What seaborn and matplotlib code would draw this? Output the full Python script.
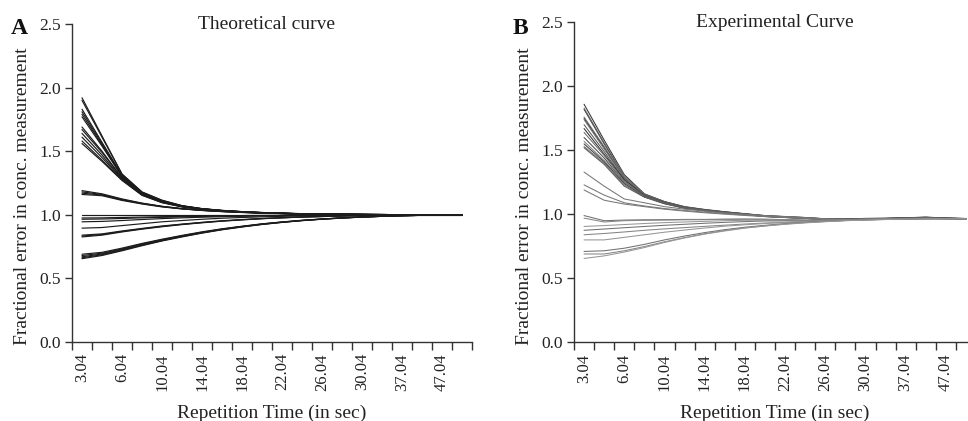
import matplotlib
matplotlib.use("Agg")
import matplotlib.pyplot as plt
import matplotlib.ticker as mticker
import numpy as np
import pandas as pd
import seaborn as sns

# Repetition times (s); every other one is labelled on the axis
rep_times = ["3.04", "4.04", "6.04", "8.04", "10.04", "12.04", "14.04", "16.04",
             "18.04", "20.04", "22.04", "24.04", "26.04", "28.04", "30.04",
             "33.04", "37.04", "42.04", "47.04", "57.04"]

# ---- Panel A: theoretical fractional error curves ----
theo_high = [
    [1.92, 1.62, 1.32, 1.180, 1.115, 1.072, 1.049, 1.035, 1.025, 1.018, 1.013, 1.009, 1.006, 1.004, 1.003, 1.002, 1.001, 1.000, 1.000, 1.000],
    [1.90, 1.61, 1.32, 1.178, 1.113, 1.071, 1.048, 1.034, 1.025, 1.018, 1.013, 1.009, 1.006, 1.004, 1.003, 1.002, 1.001, 1.000, 1.000, 1.000],
    [1.83, 1.57, 1.31, 1.175, 1.110, 1.070, 1.047, 1.034, 1.024, 1.017, 1.012, 1.008, 1.006, 1.004, 1.003, 1.002, 1.001, 1.000, 1.000, 1.000],
    [1.81, 1.56, 1.305, 1.172, 1.108, 1.069, 1.047, 1.033, 1.024, 1.017, 1.012, 1.008, 1.006, 1.004, 1.003, 1.002, 1.001, 1.000, 1.000, 1.000],
    [1.79, 1.55, 1.30, 1.170, 1.107, 1.068, 1.046, 1.033, 1.023, 1.017, 1.012, 1.008, 1.005, 1.004, 1.002, 1.001, 1.001, 1.000, 1.000, 1.000],
    [1.77, 1.54, 1.30, 1.168, 1.105, 1.068, 1.046, 1.032, 1.023, 1.016, 1.012, 1.008, 1.005, 1.004, 1.002, 1.001, 1.001, 1.000, 1.000, 1.000],
    [1.69, 1.50, 1.29, 1.165, 1.103, 1.067, 1.045, 1.032, 1.023, 1.016, 1.011, 1.008, 1.005, 1.003, 1.002, 1.001, 1.001, 1.000, 1.000, 1.000],
    [1.67, 1.49, 1.29, 1.163, 1.102, 1.066, 1.045, 1.031, 1.022, 1.016, 1.011, 1.007, 1.005, 1.003, 1.002, 1.001, 1.001, 1.000, 1.000, 1.000],
    [1.64, 1.47, 1.28, 1.160, 1.100, 1.065, 1.044, 1.031, 1.022, 1.016, 1.011, 1.007, 1.005, 1.003, 1.002, 1.001, 1.000, 1.000, 1.000, 1.000],
    [1.61, 1.45, 1.28, 1.158, 1.098, 1.064, 1.044, 1.030, 1.021, 1.015, 1.011, 1.007, 1.005, 1.003, 1.002, 1.001, 1.000, 1.000, 1.000, 1.000],
    [1.58, 1.43, 1.275, 1.155, 1.097, 1.063, 1.043, 1.030, 1.021, 1.015, 1.010, 1.007, 1.005, 1.003, 1.002, 1.001, 1.000, 1.000, 1.000, 1.000],
    [1.56, 1.42, 1.27, 1.153, 1.095, 1.062, 1.043, 1.030, 1.021, 1.015, 1.010, 1.007, 1.005, 1.003, 1.002, 1.001, 1.000, 1.000, 1.000, 1.000],
]
theo_mid = [
    [1.19, 1.165, 1.125, 1.092, 1.067, 1.049, 1.036, 1.027, 1.020, 1.015, 1.011, 1.008, 1.006, 1.004, 1.003, 1.002, 1.001, 1.001, 1.000, 1.000],
    [1.18, 1.160, 1.120, 1.090, 1.066, 1.048, 1.035, 1.026, 1.019, 1.014, 1.010, 1.008, 1.006, 1.004, 1.003, 1.002, 1.001, 1.000, 1.000, 1.000],
    [1.17, 1.155, 1.117, 1.088, 1.064, 1.047, 1.035, 1.026, 1.019, 1.014, 1.010, 1.007, 1.005, 1.004, 1.003, 1.002, 1.001, 1.000, 1.000, 1.000],
    [1.16, 1.150, 1.113, 1.085, 1.062, 1.046, 1.034, 1.025, 1.018, 1.013, 1.010, 1.007, 1.005, 1.004, 1.003, 1.002, 1.001, 1.000, 1.000, 1.000],
]
theo_near = [
    [1.000, 1.000, 1.000, 1.000, 1.000, 1.000, 1.000, 1.000, 1.000, 1.000, 1.000, 1.000, 1.000, 1.000, 1.000, 1.000, 1.000, 1.000, 1.000, 1.000],
    [0.975, 0.976, 0.979, 0.982, 0.985, 0.988, 0.990, 0.992, 0.994, 0.995, 0.996, 0.997, 0.998, 0.999, 0.999, 1.000, 1.000, 1.000, 1.000, 1.000],
    [0.965, 0.967, 0.971, 0.976, 0.980, 0.984, 0.987, 0.990, 0.992, 0.994, 0.995, 0.996, 0.997, 0.998, 0.999, 0.999, 1.000, 1.000, 1.000, 1.000],
    [0.945, 0.948, 0.955, 0.963, 0.970, 0.976, 0.981, 0.985, 0.988, 0.991, 0.993, 0.995, 0.996, 0.997, 0.998, 0.999, 1.000, 1.000, 1.000, 1.000],
    [0.895, 0.900, 0.915, 0.930, 0.945, 0.955, 0.965, 0.973, 0.979, 0.984, 0.988, 0.991, 0.993, 0.995, 0.997, 0.998, 0.999, 1.000, 1.000, 1.000],
]
theo_low = [
    [0.840, 0.850, 0.873, 0.893, 0.912, 0.927, 0.941, 0.953, 0.963, 0.971, 0.977, 0.983, 0.987, 0.991, 0.994, 0.996, 0.998, 0.999, 1.000, 1.000],
    [0.833, 0.845, 0.869, 0.890, 0.909, 0.925, 0.939, 0.951, 0.961, 0.970, 0.977, 0.982, 0.987, 0.991, 0.994, 0.996, 0.998, 0.999, 1.000, 1.000],
    [0.826, 0.840, 0.865, 0.887, 0.906, 0.923, 0.937, 0.950, 0.960, 0.969, 0.976, 0.982, 0.986, 0.990, 0.993, 0.996, 0.998, 0.999, 1.000, 1.000],
    [0.690, 0.705, 0.738, 0.775, 0.808, 0.838, 0.866, 0.890, 0.910, 0.929, 0.944, 0.957, 0.967, 0.976, 0.983, 0.989, 0.993, 0.996, 0.999, 1.000],
    [0.680, 0.698, 0.732, 0.770, 0.804, 0.835, 0.863, 0.888, 0.909, 0.928, 0.943, 0.956, 0.967, 0.976, 0.983, 0.988, 0.993, 0.996, 0.998, 1.000],
    [0.670, 0.692, 0.727, 0.765, 0.800, 0.832, 0.860, 0.886, 0.907, 0.926, 0.942, 0.955, 0.966, 0.975, 0.982, 0.988, 0.993, 0.996, 0.998, 1.000],
    [0.662, 0.686, 0.722, 0.761, 0.797, 0.829, 0.858, 0.884, 0.906, 0.925, 0.941, 0.955, 0.966, 0.975, 0.982, 0.988, 0.992, 0.996, 0.998, 1.000],
    [0.655, 0.680, 0.717, 0.757, 0.794, 0.826, 0.856, 0.882, 0.904, 0.924, 0.940, 0.954, 0.965, 0.974, 0.982, 0.988, 0.992, 0.996, 0.998, 1.000],
]

# ---- Panel B: experimental fractional error curves ----
expt_high = [
    [1.86, 1.58, 1.31, 1.160, 1.100, 1.060, 1.038, 1.020, 1.005, 0.990, 0.982, 0.975, 0.965, 0.963, 0.968, 0.969, 0.973, 0.978, 0.971, 0.967],
    [1.83, 1.56, 1.30, 1.158, 1.098, 1.058, 1.036, 1.019, 1.004, 0.989, 0.981, 0.974, 0.964, 0.962, 0.967, 0.968, 0.972, 0.977, 0.970, 0.967],
    [1.82, 1.55, 1.29, 1.155, 1.097, 1.057, 1.035, 1.018, 1.003, 0.988, 0.980, 0.973, 0.964, 0.962, 0.967, 0.968, 0.972, 0.976, 0.970, 0.967],
    [1.76, 1.53, 1.29, 1.153, 1.095, 1.056, 1.035, 1.018, 1.003, 0.988, 0.980, 0.973, 0.963, 0.961, 0.966, 0.968, 0.971, 0.976, 0.970, 0.966],
    [1.75, 1.52, 1.28, 1.150, 1.094, 1.055, 1.034, 1.017, 1.002, 0.987, 0.979, 0.972, 0.963, 0.961, 0.966, 0.967, 0.971, 0.975, 0.969, 0.966],
    [1.74, 1.51, 1.28, 1.150, 1.093, 1.055, 1.033, 1.017, 1.002, 0.987, 0.979, 0.972, 0.962, 0.960, 0.966, 0.967, 0.971, 0.975, 0.969, 0.966],
    [1.70, 1.49, 1.27, 1.148, 1.092, 1.054, 1.033, 1.016, 1.001, 0.986, 0.978, 0.971, 0.962, 0.960, 0.965, 0.967, 0.970, 0.974, 0.969, 0.966],
    [1.67, 1.47, 1.27, 1.146, 1.090, 1.053, 1.032, 1.016, 1.001, 0.986, 0.978, 0.971, 0.961, 0.960, 0.965, 0.966, 0.970, 0.974, 0.968, 0.966],
    [1.64, 1.46, 1.26, 1.144, 1.089, 1.052, 1.031, 1.015, 1.000, 0.985, 0.977, 0.970, 0.961, 0.959, 0.965, 0.966, 0.970, 0.973, 0.968, 0.965],
    [1.60, 1.44, 1.25, 1.142, 1.088, 1.051, 1.031, 1.015, 1.000, 0.985, 0.977, 0.970, 0.961, 0.959, 0.964, 0.966, 0.969, 0.973, 0.968, 0.965],
    [1.57, 1.42, 1.25, 1.140, 1.086, 1.050, 1.030, 1.014, 0.999, 0.984, 0.976, 0.969, 0.960, 0.959, 0.964, 0.965, 0.969, 0.972, 0.967, 0.965],
    [1.55, 1.41, 1.24, 1.138, 1.085, 1.049, 1.029, 1.014, 0.999, 0.984, 0.976, 0.969, 0.960, 0.958, 0.964, 0.965, 0.969, 0.972, 0.967, 0.965],
    [1.53, 1.40, 1.23, 1.136, 1.084, 1.048, 1.029, 1.013, 0.998, 0.983, 0.975, 0.968, 0.960, 0.958, 0.963, 0.965, 0.968, 0.971, 0.967, 0.965],
    [1.52, 1.39, 1.22, 1.134, 1.082, 1.047, 1.028, 1.013, 0.998, 0.983, 0.975, 0.968, 0.959, 0.958, 0.963, 0.964, 0.968, 0.971, 0.966, 0.965],
]
expt_mid = [
    [1.33, 1.22, 1.12, 1.090, 1.060, 1.040, 1.025, 1.010, 1.000, 0.990, 0.983, 0.975, 0.965, 0.960, 0.960, 0.962, 0.965, 0.968, 0.967, 0.965],
    [1.23, 1.15, 1.09, 1.065, 1.045, 1.030, 1.017, 1.005, 0.994, 0.985, 0.977, 0.970, 0.962, 0.958, 0.960, 0.962, 0.964, 0.967, 0.966, 0.965],
    [1.19, 1.11, 1.08, 1.060, 1.040, 1.025, 1.012, 1.001, 0.991, 0.982, 0.975, 0.968, 0.960, 0.957, 0.959, 0.961, 0.964, 0.966, 0.966, 0.965],
]
expt_low = [
    [0.990, 0.950, 0.955, 0.957, 0.958, 0.960, 0.960, 0.962, 0.963, 0.962, 0.958, 0.955, 0.955, 0.958, 0.962, 0.964, 0.967, 0.969, 0.967, 0.965],
    [0.970, 0.940, 0.950, 0.953, 0.955, 0.957, 0.958, 0.960, 0.961, 0.960, 0.957, 0.954, 0.954, 0.957, 0.961, 0.963, 0.966, 0.968, 0.967, 0.965],
    [0.905, 0.912, 0.920, 0.928, 0.935, 0.940, 0.945, 0.950, 0.953, 0.955, 0.953, 0.950, 0.952, 0.956, 0.960, 0.962, 0.965, 0.967, 0.966, 0.965],
    [0.875, 0.885, 0.895, 0.905, 0.914, 0.922, 0.930, 0.937, 0.943, 0.948, 0.948, 0.947, 0.950, 0.955, 0.959, 0.962, 0.965, 0.967, 0.966, 0.965],
    [0.840, 0.850, 0.862, 0.875, 0.886, 0.896, 0.906, 0.915, 0.924, 0.932, 0.936, 0.940, 0.946, 0.952, 0.957, 0.961, 0.964, 0.966, 0.966, 0.965],
    [0.800, 0.800, 0.820, 0.840, 0.860, 0.877, 0.893, 0.907, 0.918, 0.928, 0.936, 0.943, 0.949, 0.954, 0.958, 0.961, 0.963, 0.965, 0.965, 0.965],
    [0.710, 0.715, 0.735, 0.765, 0.800, 0.830, 0.857, 0.880, 0.899, 0.914, 0.927, 0.937, 0.945, 0.952, 0.957, 0.960, 0.963, 0.965, 0.965, 0.965],
    [0.690, 0.690, 0.715, 0.748, 0.785, 0.818, 0.848, 0.873, 0.894, 0.910, 0.924, 0.935, 0.944, 0.951, 0.956, 0.960, 0.963, 0.965, 0.965, 0.965],
    [0.655, 0.675, 0.705, 0.740, 0.780, 0.815, 0.845, 0.870, 0.892, 0.908, 0.922, 0.933, 0.942, 0.950, 0.955, 0.959, 0.962, 0.964, 0.965, 0.965],
]

y_ticks = [0.0, 0.5, 1.0, 1.5, 2.0, 2.5]


def to_long(groups):
    """Stack curve groups into long form with one id per curve."""
    rows = []
    cid = 0
    for gname, curves in groups:
        for vals in curves:
            for t, v in zip(rep_times, vals):
                rows.append({"curve": cid, "group": gname, "rt": t, "value": v})
            cid += 1
    df = pd.DataFrame(rows)
    df["pos"] = pd.Categorical(df["rt"], categories=rep_times, ordered=True).codes
    return df


df_a = to_long([("high", theo_high), ("mid", theo_mid),
                ("near", theo_near), ("low", theo_low)])
df_b = to_long([("high", expt_high), ("mid", expt_mid), ("low", expt_low)])

# grey levels for the experimental curves
b_greys = {}
dark_cycle = ["#333333", "#6a6a6a", "#4d4d4d", "#808080", "#404040", "#747474", "#5a5a5a"]
for cid, grp in df_b.groupby("curve")["group"].first().items():
    if grp == "high":
        b_greys[cid] = dark_cycle[cid % len(dark_cycle)]
    elif grp == "mid":
        b_greys[cid] = "#777777"
    else:
        b_greys[cid] = ["#858585", "#969696", "#707070"][cid % 3]

sns.set_theme(style="ticks")
plt.rcParams["font.family"] = ["Liberation Serif", "DejaVu Serif"]
plt.rcParams["axes.edgecolor"] = "#333333"
plt.rcParams["axes.linewidth"] = 1.0

fig = plt.figure(figsize=(9.68, 4.21), dpi=100)
ax_a = fig.add_axes([72 / 968, 1 - 342 / 421, 400 / 968, 318 / 421])
ax_b = fig.add_axes([574 / 968, 1 - 342.3 / 421, 402 / 968, 320 / 421])

sns.lineplot(data=df_a, x="pos", y="value", units="curve", estimator=None,
             sort=False, color="#1c1c1c", linewidth=0.85, ax=ax_a, legend=False)
sns.lineplot(data=df_b, x="pos", y="value", hue="curve", palette=b_greys,
             estimator=None, sort=False, linewidth=0.75, ax=ax_b, legend=False)

label_pos = list(range(0, len(rep_times), 2))
for ax, title, title_x, tag, tag_x in [(ax_a, "Theoretical curve", 0.487, "A", 11),
                                       (ax_b, "Experimental Curve", 0.5, "B", 513)]:
    ax.set_xlim(-0.5, len(rep_times) - 0.5)
    ax.set_ylim(0, 2.5)
    ax.set_yticks(y_ticks)
    ax.yaxis.set_major_formatter(mticker.FormatStrFormatter("%.1f"))
    # boundary tick marks between categories, labels on alternate categories
    ax.xaxis.set_major_locator(mticker.FixedLocator(np.arange(-0.5, len(rep_times), 1.0)))
    ax.xaxis.set_major_formatter(mticker.NullFormatter())
    ax.xaxis.set_minor_locator(mticker.FixedLocator(label_pos))
    ax.xaxis.set_minor_formatter(mticker.FixedFormatter([rep_times[i] for i in label_pos]))
    ax.tick_params(axis="x", which="major", length=6, width=1.0, color="#333333")
    ax.tick_params(axis="x", which="minor", length=0, labelsize=12, rotation=90,
                   pad=8, labelcolor="#222222")
    ax.tick_params(axis="y", length=5, width=1.0, color="#333333", labelsize=12.5,
                   pad=3, labelcolor="#222222")
    sns.despine(ax=ax)
    ax.set_xlabel("Repetition Time (in sec)", fontsize=14, color="#222222", labelpad=10)
    ax.set_ylabel("Fractional error in conc. measurement", fontsize=14,
                  color="#222222", va="center")
    ax.yaxis.set_label_coords(-0.1225, 0.458)
    ax.text(title_x, 1.0, title, transform=ax.transAxes, ha="center", va="center",
            fontsize=14, color="#222222")
    fig.text(tag_x / 968, 1 - 28 / 421, tag, fontsize=17, fontweight="bold",
             ha="left", va="center", color="#111111")

fig.savefig("out.png", dpi=100)
